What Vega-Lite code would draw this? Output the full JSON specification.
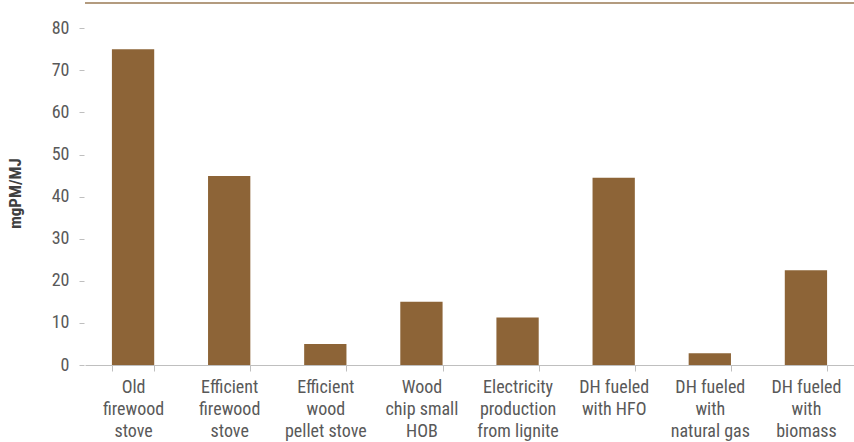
{
  "$schema": "https://vega.github.io/schema/vega-lite/v6.json",
  "width": 769,
  "height": 362,
  "autosize": {"type": "none"},
  "padding": {"left": 85, "top": 3, "right": 0, "bottom": 77},
  "background": "white",
  "config": {
    "view": {"stroke": null},
    "font": "Roboto Condensed, Liberation Sans Narrow, DejaVu Sans Condensed, Roboto"
  },
  "data": {
    "values": [
      {"category": "Old|firewood|stove", "value": 75},
      {"category": "Efficient|firewood|stove", "value": 44.9},
      {"category": "Efficient|wood|pellet stove", "value": 5},
      {"category": "Wood|chip small|HOB", "value": 15},
      {"category": "Electricity|production|from lignite", "value": 11.3},
      {"category": "DH fueled|with HFO", "value": 44.5},
      {"category": "DH fueled|with|natural gas", "value": 2.8},
      {"category": "DH fueled|with|biomass", "value": 22.5}
    ]
  },
  "layer": [
    {
      "mark": {"type": "bar", "color": "#8d6437"},
      "encoding": {
        "x": {
          "field": "category",
          "type": "nominal",
          "sort": null,
          "scale": {"paddingInner": 0.56, "paddingOuter": 0.28},
          "axis": {
            "title": null,
            "labelAngle": 0,
            "labelExpr": "isValid(datum.value) ? split(datum.value, '|') : ''",
            "labelFontSize": 18,
            "labelColor": "#595959",
            "labelLineHeight": 22,
            "labelPadding": 7,
            "domainColor": "#bfbfbf",
            "tickColor": "#bfbfbf",
            "tickBand": "extent",
            "tickSize": 6
          }
        },
        "y": {
          "field": "value",
          "type": "quantitative",
          "scale": {"domain": [0, 86], "nice": false},
          "axis": {
            "title": "mgPM/MJ",
            "titleFontSize": 17,
            "titleFontWeight": "bold",
            "titleColor": "#404040",
            "titleX": -60,
            "titleY": 190,
            "values": [0, 10, 20, 30, 40, 50, 60, 70, 80],
            "grid": false,
            "domain": false,
            "tickSize": 5,
            "offset": 1,
            "tickColor": "#bfbfbf",
            "labelFontSize": 18,
            "labelColor": "#595959",
            "labelPadding": 10
          }
        }
      }
    },
    {
      "mark": {"type": "rule", "color": "#b39b7f", "strokeWidth": 2, "clip": false},
      "encoding": {"y": {"datum": 86, "type": "quantitative"}}
    }
  ]
}
